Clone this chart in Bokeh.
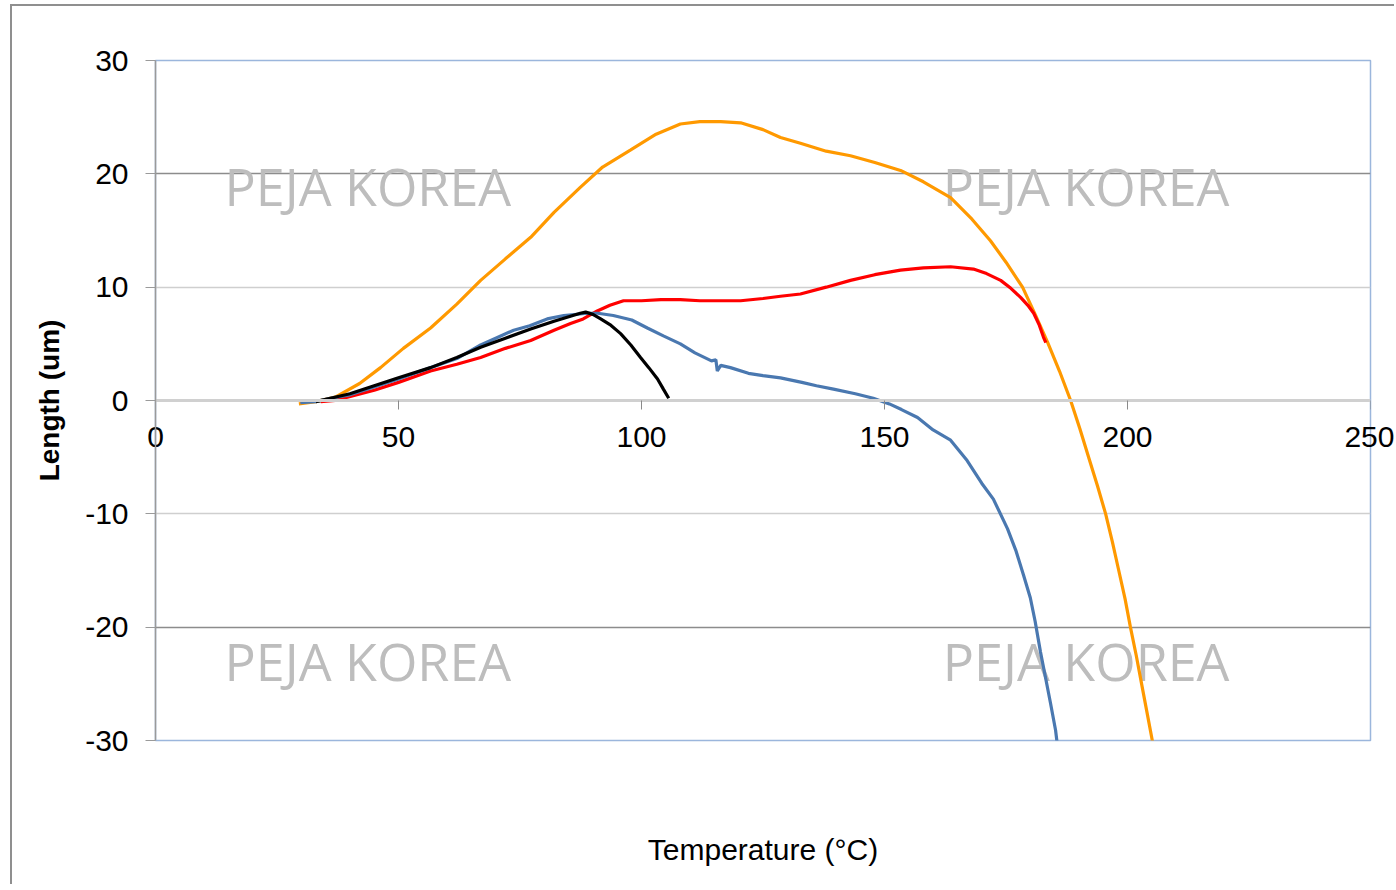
from bokeh.plotting import figure
from bokeh.models import LinearAxis, Range1d, FixedTicker, Grid, Label
from bokeh.embed import file_html
from bokeh.resources import INLINE

# ---- data ----
orange_x = [29.5, 33, 37, 42, 46.3, 51, 56.6, 62, 66.9, 72, 77.2, 82, 87.4, 92, 97.7, 103, 108, 112,
            116.3, 120.4, 125, 128.6, 132.7, 138, 143, 148, 153.3, 158, 163.6, 168, 171.8, 175, 178.4,
            181, 183.5, 186, 188.3, 190.2, 192, 193.8, 195.5, 196.9, 198.2, 199.5, 200.6, 201.8,
            202.9, 204, 205.1, 205.3]
orange_y = [-0.3, -0.1, 0.3, 1.5, 2.9, 4.6, 6.4, 8.5, 10.6, 12.5, 14.4, 16.6, 18.8, 20.6, 22.1, 23.5,
            24.4, 24.6, 24.6, 24.5, 23.9, 23.2, 22.7, 22.0, 21.6, 21.0, 20.3, 19.3, 17.9, 16.0, 14.1,
            12.2, 10.0, 7.6, 5.2, 2.6, 0.0, -2.5, -5.0, -7.5, -10.0, -12.5, -15.0, -17.5, -20.0,
            -22.5, -25.0, -27.5, -30.0, -30.6]

red_x = [34, 37, 39.5, 45, 50, 56.6, 62, 66.9, 72, 77.2, 82, 85.4, 88, 90.9, 93.5, 96.3, 100, 104, 108,
         112, 116, 120.4, 125, 128.6, 132.7, 138, 143, 148, 153.3, 158, 163.6, 168.3, 171, 173.9, 176,
         178, 179.5, 180.7, 181.8, 182.7, 183.2]
red_y = [-0.1, 0.0, 0.3, 0.9, 1.6, 2.6, 3.2, 3.8, 4.6, 5.3, 6.2, 6.8, 7.2, 7.9, 8.4, 8.8, 8.8, 8.9, 8.9,
         8.8, 8.8, 8.8, 9.0, 9.2, 9.4, 10.0, 10.6, 11.1, 11.5, 11.7, 11.8, 11.6, 11.2, 10.6, 9.9,
         9.1, 8.4, 7.7, 6.7, 5.6, 5.1]

black_x = [33, 36, 40, 45, 50, 56.6, 62, 66.9, 72, 77.2, 82, 87.4, 88.5, 90, 91.6, 93.5, 95.7, 97.8,
           99.8, 101.5, 103.3, 104.5, 105.6]
black_y = [-0.1, 0.2, 0.6, 1.3, 2.0, 2.9, 3.8, 4.7, 5.5, 6.3, 7.0, 7.7, 7.8, 7.6, 7.2, 6.7, 5.9, 4.9,
           3.8, 2.9, 1.9, 1.0, 0.2]

blue_x = [29.8, 33, 36, 40, 45, 50, 56.6, 62, 66.9, 70, 73.7, 77, 80.6, 84, 88.9, 91, 94.2, 98, 101.2,
          104.5, 108, 111, 114.4, 115.3, 115.6, 116.3, 118.3, 122, 125, 128.6, 133, 136, 139.5, 144,
          147.7, 151, 153.5, 156.8, 160, 163.6, 167, 170, 172.4, 175.3, 177, 178.6, 180, 181, 182.1,
          183.2, 184.2, 185.2, 185.6]
blue_y = [-0.2, -0.1, 0.2, 0.5, 1.2, 1.9, 2.9, 3.7, 4.9, 5.5, 6.2, 6.6, 7.2, 7.5, 7.7, 7.7, 7.5, 7.1,
          6.4, 5.7, 5.0, 4.2, 3.5, 3.6, 2.6, 3.1, 2.9, 2.4, 2.2, 2.0, 1.6, 1.3, 1.0, 0.6, 0.2, -0.3,
          -0.8, -1.5, -2.6, -3.5, -5.3, -7.3, -8.7, -11.3, -13.2, -15.4, -17.4, -19.5, -22.2, -24.6,
          -26.8, -29.1, -30.5]

x_ticks = [0, 50, 100, 150, 200, 250]
y_ticks = [-30, -20, -10, 0, 10, 20, 30]
watermark = "PEJA KOREA"

FONT = "Liberation Sans"

p = figure(width=1384, height=880, output_backend="svg", toolbar_location=None,
           x_range=Range1d(0, 250), y_range=Range1d(-30, 30),
           min_border_left=143, min_border_right=26, min_border_top=54, min_border_bottom=146,
           x_axis_location=None, y_axis_location=None)
p.margin = (4, 0, 0, 10)
p.styles = {"border-left": "2px solid #8f8f8f", "border-top": "2px solid #8f8f8f"}
p.background_fill_color = "white"
p.border_fill_color = "white"
p.outline_line_color = "#9bb6dc"
p.outline_line_width = 1.5

# grid: light lines at +/-10, darker at +/-20
p.xgrid.visible = False
p.ygrid.visible = False
g1 = Grid(dimension=1, ticker=FixedTicker(ticks=[-10, 10]), grid_line_color="#cfcfcf", grid_line_width=1.5)
g2 = Grid(dimension=1, ticker=FixedTicker(ticks=[-20, 20]), grid_line_color="#8c8c8c", grid_line_width=1.5)
p.add_layout(g1)
p.add_layout(g2)

# y axis
yax = LinearAxis(ticker=FixedTicker(ticks=y_ticks))
yax.major_label_overrides = {t: str(t) for t in y_ticks}
yax.axis_label = "Length (um)"
yax.axis_label_text_font = FONT
yax.axis_label_text_font_style = "bold"
yax.axis_label_text_font_size = "28px"
yax.axis_label_text_color = "black"
yax.axis_label_standoff = 17
yax.major_label_text_font = FONT
yax.major_label_text_font_size = "30px"
yax.major_label_text_color = "black"
yax.major_label_standoff = 17
yax.axis_line_color = "#9a9a9a"
yax.axis_line_width = 1.5
yax.major_tick_line_color = "#9a9a9a"
yax.major_tick_out = 10
yax.major_tick_in = 0
yax.minor_tick_line_color = None
p.add_layout(yax, "left")

# x axis line + ticks crossing at y = 0
xax = LinearAxis(ticker=FixedTicker(ticks=x_ticks), fixed_location=0)
xax.axis_line_color = "#d0d0d0"
xax.axis_line_width = 3
xax.major_tick_line_color = "#8a8a8a"
xax.major_tick_out = 9
xax.major_tick_in = 0
xax.minor_tick_line_color = None
xax.major_label_text_color = None
xax.major_label_text_font_size = "1px"
p.add_layout(xax, "below")

# x tick labels (unclipped axis below the frame, labels lifted under the zero line) + x title
xlab = LinearAxis(ticker=FixedTicker(ticks=x_ticks))
xlab.axis_line_color = None
xlab.major_tick_line_color = None
xlab.minor_tick_line_color = None
xlab.major_tick_out = 0
xlab.major_tick_in = 0
xlab.major_label_text_font = FONT
xlab.major_label_text_font_size = "30px"
xlab.major_label_text_color = "black"
xlab.major_label_standoff = -314
xlab.axis_label = "Temperature (\u00b0C)"
xlab.axis_label_text_font = FONT
xlab.axis_label_text_font_size = "30px"
xlab.axis_label_text_font_style = "normal"
xlab.axis_label_text_color = "black"
xlab.axis_label_standoff = 383
p.add_layout(xlab, "below")

# watermarks
for wx, wy in [(14.2, 19.0), (162.0, 19.0), (14.2, -22.9), (162.0, -22.9)]:
    p.add_layout(Label(x=wx, y=wy, text=watermark, text_font="Open Sans", text_font_size="52px",
                       text_color="#bdbdbd", text_baseline="alphabetic", text_align="left", level="underlay"))

p.line(orange_x, orange_y, line_color="#ff9900", line_width=3.2)
p.line(red_x, red_y, line_color="#ff0000", line_width=3.2)
p.line(blue_x, blue_y, line_color="#4a78b0", line_width=3.2)
p.line(black_x, black_y, line_color="#000000", line_width=3.2)

open("out.html", "w").write(file_html(p, INLINE))
